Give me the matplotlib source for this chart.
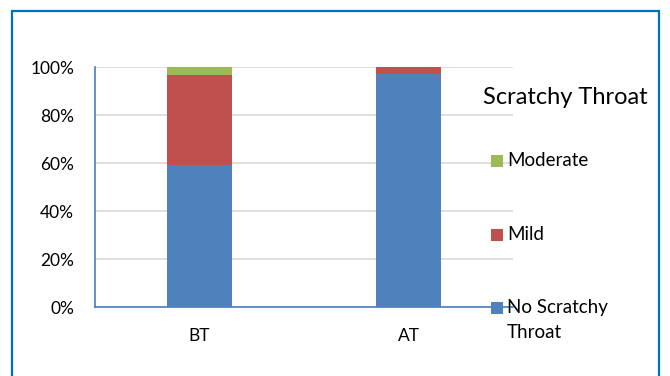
import matplotlib
matplotlib.use("Agg")
import matplotlib.pyplot as plt
from matplotlib.patches import Rectangle
from matplotlib.ticker import PercentFormatter

# Share of patients per severity of scratchy throat, before (BT) and after (AT) treatment
categories = ["BT", "AT"]
none_vals = [59.3, 96.9]
mild_vals = [37.4, 3.1]
moderate_vals = [3.3, 0.0]
series_labels = ["No Scratchy\nThroat", "Mild", "Moderate"]
legend_title = "Scratchy Throat"
y_ticks = [0, 20, 40, 60, 80, 100]

colors = ["#4F81BD", "#C0504D", "#9BBB59"]
font = "Lato"
plt.rcParams["font.family"] = [font, "DejaVu Sans"]

W, H = 670, 376
fig = plt.figure(figsize=(W / 100, H / 100), dpi=100)
ax = fig.add_axes([95 / W, 1 - 307 / H, (513 - 95) / W, (307 - 67) / H])

x = range(len(categories))
bw = 0.31
bars = []
bottom = [0.0] * len(categories)
for vals, c in zip([none_vals, mild_vals, moderate_vals], colors):
    b = ax.bar(x, vals, bw, bottom=bottom, color=c, zorder=2)
    bars.append(b)
    bottom = [bt + v for bt, v in zip(bottom, vals)]

ax.set_xlim(-0.5, 1.5)
ax.set_ylim(0, 100)
ax.set_yticks(y_ticks)
ax.yaxis.set_major_formatter(PercentFormatter(decimals=0))
ax.set_xticks(list(x))
ax.set_xticklabels(categories)
ax.tick_params(axis="both", length=0, labelsize=12.5, colors="black")
ax.tick_params(axis="y", pad=15)
ax.tick_params(axis="x", pad=15)
ax.grid(axis="y", color="#D9D9D9", linewidth=1.2, zorder=0)
for s in ["top", "right"]:
    ax.spines[s].set_visible(False)
for s in ["left", "bottom"]:
    ax.spines[s].set_color("#4A7EBB")
    ax.spines[s].set_linewidth(1.2)
    ax.spines[s].set_zorder(3)

# Legend drawn in figure pixels
def fx(px):
    return px / W

def fy(py):
    return 1 - py / H

fig.text(fx(483), fy(97), legend_title, fontsize=17, va="center", ha="left")
entries = [(bars[2], series_labels[2], 161), (bars[1], series_labels[1], 235), (bars[0], series_labels[0], 308)]
for b, lab, yc in entries:
    col = b.patches[0].get_facecolor()
    fig.patches.append(Rectangle((fx(491), fy(yc + 6)), 12 / W, 12 / H, transform=fig.transFigure,
                                 facecolor=col, edgecolor="none", zorder=5))
    lines = lab.split("\n")
    for i, ln in enumerate(lines):
        fig.text(fx(507), fy(yc + i * 25), ln, fontsize=13.5, va="center", ha="left", zorder=6)

# Outer chart frame
fig.patches.append(Rectangle((fx(12), fy(390)), (659 - 12) / W, (390 - 11) / H, transform=fig.transFigure,
                             facecolor="none", edgecolor="#0070C0", linewidth=1.6, zorder=10))

fig.savefig("out.png", dpi=100)
